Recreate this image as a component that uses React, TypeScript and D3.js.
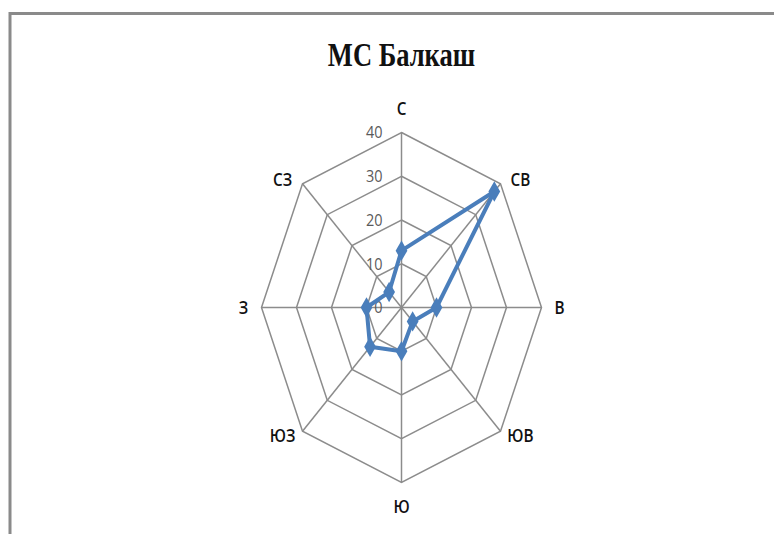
import React from "react";
import * as d3 from "d3";

const categories = ["С", "СВ", "В", "ЮВ", "Ю", "ЮЗ", "З", "СЗ"];
const values = [13, 37.5, 10, 4.5, 10, 12.7, 10, 5];
const ticks = [0, 10, 20, 30, 40];
const title = "МС Балкаш";

export default function App() {
  const W = 774, H = 534;
  const cx = 401.5, cy = 307.5, rx = 140, ry = 175;
  const r = d3.scaleLinear().domain([0, 40]).range([0, 1]);
  const ang = d3.scaleLinear().domain([0, categories.length]).range([0, 2 * Math.PI]);
  const pt = (i: number, v: number): [number, number] => {
    const a = ang(i);
    return [cx + rx * r(v) * Math.sin(a), cy - ry * r(v) * Math.cos(a)];
  };
  const closed = d3.line().curve(d3.curveLinearClosed);
  const gridColor = "#8c8c8c";
  const blue = "#4a7ebb";
  return (
    <svg width={W} height={H} style={{ position: "absolute", left: 0, top: 0, background: "#fff" }}>
      <rect x={10} y={13.5} width={W} height={H} fill="#fff" stroke="#8a8a8a" strokeWidth={3} />
      <text x={cx} y={66} textAnchor="middle" fontFamily="Liberation Serif, serif" fontWeight="bold" fontSize={34}
        transform={`translate(${cx},0) scale(0.78,1) translate(${-cx},0)`} fill="#111">
        {title}
      </text>
      {ticks.filter(t => t > 0).map(t => (
        <path key={t} d={closed(categories.map((_, i) => pt(i, t)))!} fill="none" stroke={gridColor} strokeWidth={1.5} />
      ))}
      {categories.map((_, i) => {
        const [x, y] = pt(i, 40);
        return <line key={i} x1={cx} y1={cy} x2={x} y2={y} stroke={gridColor} strokeWidth={1.5} />;
      })}
      {ticks.map(t => {
        const [, y] = pt(0, t);
        return (
          <text key={t} x={cx - 19} y={y + 6} textAnchor="end" fontFamily="Open Sans, sans-serif" fontSize={17} fill="#5a5a5a"
            transform={`translate(${cx - 19},0) scale(0.85,1) translate(${-(cx - 19)},0)`}>
            {t}
          </text>
        );
      })}
      <path d={closed(values.map((v, i) => pt(i, v)))!} fill="none" stroke={blue} strokeWidth={4} strokeLinejoin="round" />
      {values.map((v, i) => {
        const [x, y] = pt(i, v);
        return <path key={i} d={d3.symbol(d3.symbolDiamond, 120)()!} transform={`translate(${x},${y})`} fill={blue} />;
      })}
      {categories.map((c, i) => {
        const a = ang(i);
        const s = Math.sin(a), co = Math.cos(a);
        let x = cx, y = cy;
        if (Math.abs(s) > 0.9) { x = cx + (rx + 18) * s; y = cy; }
        else if (Math.abs(co) > 0.9) { x = cx; y = cy - (ry + 24) * co; }
        else { x = cx + (rx * 0.707 + 20) * Math.sign(s); y = cy - (ry * 0.707 + 4) * Math.sign(co); }
        return (
          <text key={c} x={x} y={y} dy="0.35em" textAnchor="middle" fontFamily="Open Sans, sans-serif" fontWeight={600} fontSize={18} fill="#111"
            transform={`translate(${x},0) scale(0.85,1) translate(${-x},0)`}>
            {c}
          </text>
        );
      })}
    </svg>
  );
}
